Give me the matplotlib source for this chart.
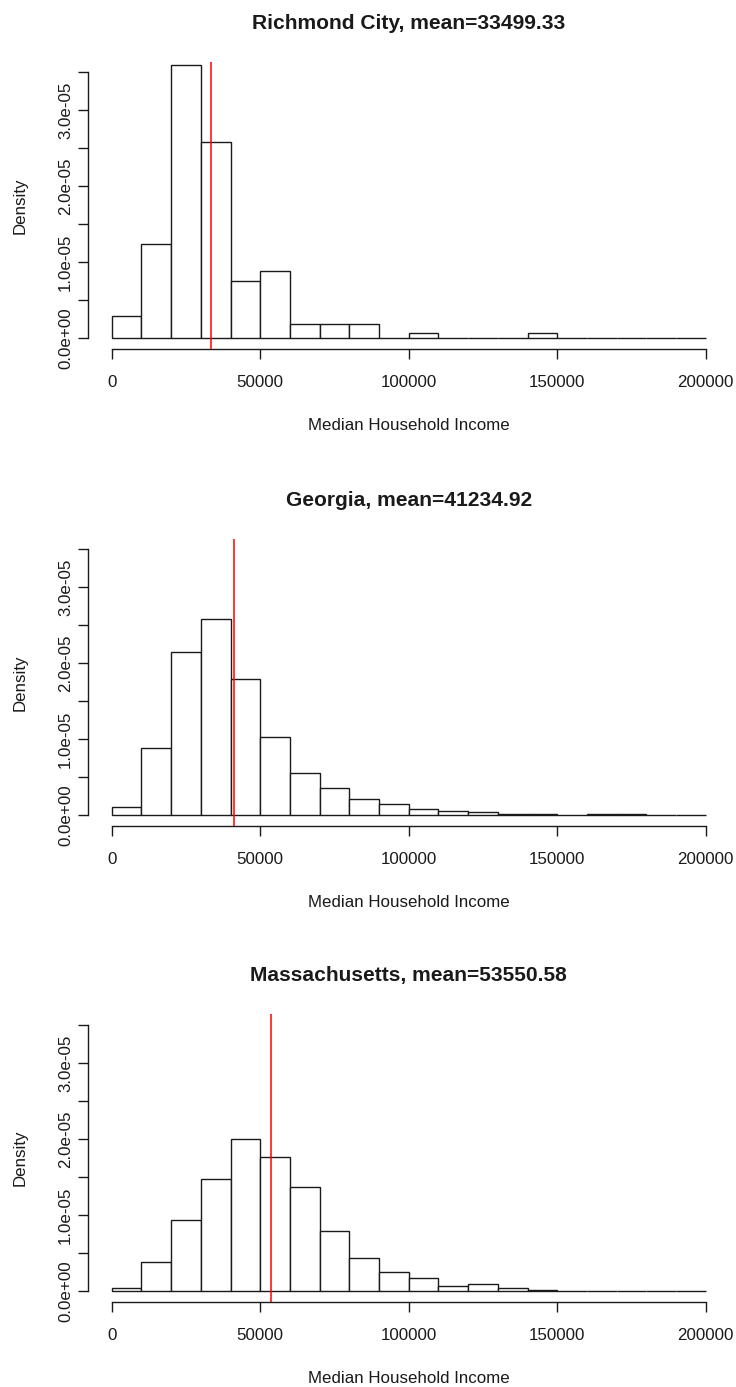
import matplotlib
matplotlib.use("Agg")
import matplotlib.pyplot as plt
import numpy as np

plt.rcParams['font.family'] = ['Liberation Sans', 'DejaVu Sans']

# Histogram breaks (10k bins from 0 to 200k)
breaks = list(range(0, 200001, 10000))

# Densities per bin, in units of 1e-5
richmond_density = [0.30, 1.24, 3.60, 2.59, 0.75, 0.89, 0.19, 0.19, 0.19, 0.0,
                    0.07, 0.0, 0.0, 0.0, 0.07, 0.0, 0.0, 0.0, 0.0, 0.0]
georgia_density = [0.105, 0.89, 2.154, 2.583, 1.789, 1.026, 0.553, 0.364, 0.21, 0.15,
                   0.083, 0.061, 0.044, 0.02, 0.02, 0.0, 0.015, 0.015, 0.0, 0.0]
mass_density = [0.035, 0.377, 0.93, 1.474, 2.0, 1.763, 1.364, 0.785, 0.439, 0.255,
                0.171, 0.061, 0.092, 0.044, 0.018, 0.0, 0.0, 0.0, 0.0, 0.0]

regions = ["Richmond City", "Georgia", "Massachusetts"]
means = [33499.33, 41234.92, 53550.58]
densities = [richmond_density, georgia_density, mass_density]

x_ticks = [0, 50000, 100000, 150000, 200000]
y_ticks = [0.0, 0.5e-5, 1.0e-5, 1.5e-5, 2.0e-5, 2.5e-5, 3.0e-5, 3.5e-5]
y_labeled = [0.0, 1.0e-5, 2.0e-5, 3.0e-5]

W, H = 736, 1387
fig = plt.figure(figsize=(W / 100, H / 100), dpi=100)

BASE = 12.2
TITLE = 15.1
INK = '#1a1a1a'

left_px, right_px = 88.0, 729.5
panel_tops = [61.7, 538.7, 1014.4]
panel_h = 287.3


def add_px_axes(left, top, right, bottom):
    return fig.add_axes([left / W, 1 - bottom / H, (right - left) / W, (bottom - top) / H])


edges = np.array(breaks, dtype=float)
widths = np.diff(edges)

for region, mean, dens, top in zip(regions, means, densities, panel_tops):
    bottom = top + panel_h
    ax = add_px_axes(left_px, top, right_px, bottom)
    heights = np.array(dens) * 1e-5
    ax.bar(edges[:-1], heights, width=widths, align='edge',
           facecolor='white', edgecolor=INK, linewidth=1.0, zorder=2)
    ax.axvline(mean, color='red', linewidth=1.1, zorder=3)

    ax.set_xlim(-8000, 208000)
    ax.set_ylim(-0.04 * 3.5e-5, 3.5e-5 * 1.04)

    for s in ('top', 'right'):
        ax.spines[s].set_visible(False)
    ax.spines['left'].set_bounds(0, 3.5e-5)
    ax.spines['bottom'].set_bounds(0, 200000)
    for s in ('left', 'bottom'):
        ax.spines[s].set_linewidth(1.0)
        ax.spines[s].set_color(INK)

    ax.set_xticks(x_ticks, labels=[str(v) for v in x_ticks])
    ylabels = [f"{v:.1e}" if v in y_labeled else "" for v in y_ticks]
    ax.set_yticks(y_ticks, labels=ylabels)
    for lab in ax.get_yticklabels():
        lab.set_rotation(90)
        lab.set_va('center')
    ax.tick_params(axis='both', direction='out', length=7.2, width=1.0,
                   labelsize=BASE, colors=INK, labelcolor=INK)
    ax.tick_params(axis='x', pad=11.5)
    ax.tick_params(axis='y', pad=3.5)

    ax.set_facecolor('none')

    cx = (left_px + right_px) / 2
    fig.text(cx / W, 1 - (top - 33) / H, f"{region}, mean={mean:.2f}",
             ha='center', va='baseline', fontsize=TITLE, fontweight='bold', color=INK)
    fig.text(cx / W, 1 - (bottom + 81) / H, "Median Household Income",
             ha='center', va='baseline', fontsize=BASE, color=INK)
    fig.text(20 / W, 1 - (top + panel_h / 2) / H, "Density",
             ha='center', va='center', rotation=90, fontsize=BASE, color=INK)

fig.savefig("out.png", dpi=100)
